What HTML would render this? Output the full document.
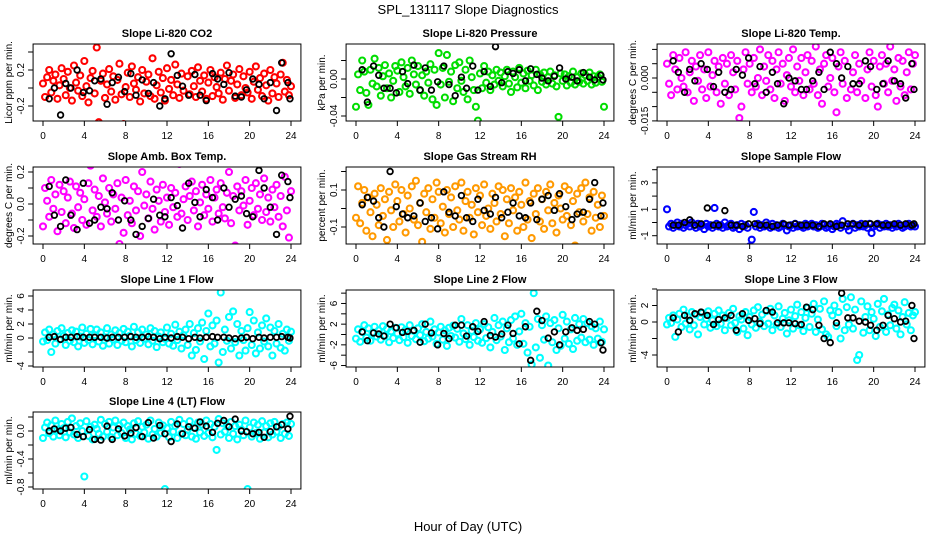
<!DOCTYPE html>
<html><head><meta charset="utf-8"><style>
html,body{margin:0;padding:0;background:#fff;}
svg{display:block;font-family:"Liberation Sans",sans-serif;}
</style></head><body>
<svg id="c" width="936" height="540" viewBox="0 0 936 540">
<text x="468" y="14" text-anchor="middle" font-size="13">SPL_131117  Slope Diagnostics</text>
<text x="468" y="531" text-anchor="middle" font-size="13">Hour of Day (UTC)</text>
</svg>
<script>
// shared sample times (hours)
const blackTimes=[0.6,1.1,1.7,2.2,2.7,3.3,3.9,4.5,5.0,5.6,6.2,6.7,7.3,7.9,8.5,9.0,9.6,10.2,10.7,11.3,11.8,12.4,13.0,13.5,14.1,14.7,15.2,15.8,16.4,16.9,17.5,18.0,18.6,19.2,19.7,20.3,20.9,21.4,22.0,22.6,23.1,23.7,23.9];
const xTicks=[0,4,8,12,16,20,24];
// panel values (scaled integer units noted per panel)
const co2Vals=[5,-10,12,20,-5,8,15,-12,3,22,10,-8,18,0,-14,25,6,-3,14,-9,30,2,-16,11,19,-6,45,-38,8,16,-11,4,21,-4,13,-13,9,27,-7,-40,1,17,-10,24,5,-2,12,-15,20,-6,7,15,-9,33,-12,3,18,-5,11,-14,22,-1,9,-8,26,4,-11,16,-3,-42,13,-7,19,2,-10,23,8,-4,14,-12,6,20,-9,12,1,-6,17,-13,10,25,-3,8,15,-11,4,21,-8,13,0,-5,18,-12,7,24,-2,11,-9,16,3,-14,20,-6,12,5,-10,15,28,-4,9,-8,2];
const co2Black=[-12,0,-30,5,0,20,-5,-3,8,10,-18,6,12,-4,16,-8,9,-6,6,-20,-12,38,14,2,-8,15,-8,-14,16,10,4,17,-9,-10,-2,10,4,-12,6,-25,28,6,-12];
const presVals=[-30,5,-12,20,8,-15,-28,10,-5,22,-8,12,-18,3,15,-10,6,-20,-2,14,9,-14,18,2,-8,12,-16,20,5,-6,14,-12,4,-18,8,-4,16,-22,10,-28,28,-6,12,-20,26,-3,8,-24,15,-10,18,-2,-14,10,-22,20,2,-12,-30,-45,6,-10,14,-4,8,-12,4,-6,10,-2,7,-8,3,10,-5,-14,8,2,-9,12,-4,6,-10,9,-2,4,-7,10,-12,5,-3,7,-6,2,8,-5,4,-8,-41,6,-2,5,-7,3,-4,8,-6,2,-3,6,-5,4,-2,7,-6,3,-4,2,5,-3,-30];
const presBlack=[10,-25,14,4,-10,-10,-15,8,-5,15,-12,12,-12,-3,14,-6,-18,2,-10,14,-12,8,-8,35,-4,8,6,10,-2,11,5,1,-2,3,12,0,2,-2,7,2,-1,4,-1];
const tempVals=[5,-2,-6,8,3,-4,7,0,-3,9,-5,2,6,-8,4,-1,8,-4,3,-7,9,-3,1,6,-5,4,-9,7,-2,5,-6,8,2,-4,6,-14,-10,3,9,-2,5,-5,7,-3,0,10,-6,4,-1,8,-4,6,-7,3,9,-2,5,-8,1,7,-3,10,-5,4,-1,7,-6,2,8,-4,6,-2,11,-6,3,-9,5,8,-3,0,7,-5,-12,4,9,-2,6,-7,14,-4,2,8,-5,5,-1,15,-7,3,9,-3,6,-6,-10,4,8,-2,5,-5,11,-1,3,-8,7,-3,6,-6,2,9,-4,5,8];
const tempBlack=[6,2,-5,3,-1,5,3,-3,2,-5,-4,3,1,7,-2,4,-5,2,-2,-9,0,-1,-4,-4,-1,2,-4,9,5,0,4,-2,-2,6,4,-4,-2,6,-1,-2,-7,5,-4];
const ambVals=[-14,10,2,-8,15,-3,6,-17,12,-5,8,-12,4,14,-6,-15,11,-2,7,-10,3,-13,13,24,-4,9,-8,5,-14,16,1,-6,10,-11,6,-3,13,-25,4,-18,15,-7,2,-12,11,-4,8,-20,20,-1,6,-9,14,-3,-16,9,2,-11,12,-5,4,-13,10,-2,7,-8,25,-6,3,11,-10,5,14,-4,8,-14,1,12,-7,6,-3,15,-11,4,9,-6,13,-2,-9,7,20,-12,5,-26,11,-4,8,-1,15,-13,2,10,-7,13,-3,6,-10,16,-5,4,-11,9,-2,12,-8,5,-14,17,-4,-21,8];
const ambBlack=[11,-7,-14,15,-7,-16,13,-12,-10,-2,-3,7,-10,2,-10,-19,-14,-9,3,-7,-8,4,-1,-15,13,1,-8,9,4,-10,10,-2,3,5,-6,-8,21,10,-2,-19,18,14,4];
const rhVals=[-5,12,-8,3,10,-12,6,-2,-15,8,2,-9,11,-4,5,-17,9,-1,-10,13,4,-7,10,-3,-13,7,0,12,-6,15,-9,3,-18,8,-2,11,-11,5,-5,14,9,-8,1,-13,10,-3,6,-10,12,-1,-6,14,-12,4,9,-5,2,-14,11,-2,7,-9,13,-4,0,-11,8,3,-7,12,-3,10,-15,5,-8,11,-1,6,-12,9,2,-10,14,-6,4,-16,8,-3,11,-7,5,-11,9,-1,13,-8,3,-13,7,0,-6,12,-4,10,-9,4,-20,8,-2,11,-7,14,-3,6,-12,9,-5,2,-10,7,-4];
const rhBlack=[2,6,4,-5,-10,20,1,-3,-5,-4,3,-7,-5,-11,9,-2,-4,7,-5,-7,5,-1,-3,6,-5,-2,3,-4,-5,3,-6,5,7,-1,8,1,-6,-3,-2,5,14,-4,3];
const sampVals=[10,-3,-1,-4,-2,0,-3,-1,-4,-2,-1,-3,0,-2,-4,-1,-3,-2,-5,-1,-3,-2,-4,11,-1,-3,-2,-4,0,-3,-2,-1,-4,-3,-2,-5,-1,-3,-2,-4,-18,-13,8,-3,-1,-4,-2,-3,0,-2,-4,-1,-3,-2,-4,-3,-1,-2,-6,-3,-2,-4,-1,-3,-2,-3,-4,-1,-3,-2,-1,-3,-2,-4,-3,-1,-2,-4,-3,-2,-5,-3,-1,-2,-4,1,45,-3,-6,-2,-1,-4,-2,-3,-1,-3,-2,-4,-1,-8,-3,-2,-1,-4,-2,-3,-1,-3,-2,-4,-2,-3,-1,-2,-4,-3,-2,-1,-3,-2,-3];
const sampBlack=[-2,-2,0,2,-2,-1,11,-2,-2,9,-2,-2,-3,-1,-1,-2,-2,-3,-2,-1,-2,-1,-2,-2,-2,-3,-1,-1,-3,-2,-1,-1,-2,-1,-1,-1,-2,-2,-1,-2,-1,-2,-1];
const l1Vals=[-5,8,-3,12,-20,5,-8,10,-2,14,3,-10,7,-4,11,-6,9,-12,2,15,-7,6,-3,13,-9,4,12,-5,8,-11,1,14,-8,5,-2,11,-10,7,-4,13,-6,9,3,-12,16,-3,8,-7,12,-1,5,-9,14,-4,10,-13,2,8,-6,-1,15,-8,6,-11,19,-3,9,-15,4,12,-10,20,-25,7,-17,14,-5,22,-30,10,35,-12,18,-8,25,-35,65,-20,12,-4,30,-15,38,-6,20,-25,10,-3,-18,14,37,-10,25,-22,8,-15,18,-5,28,-12,15,-25,10,-8,20,-14,6,-18,12,-4,9];
const l1Black=[1,2,-2,1,1,2,1,1,1,1,0,1,1,1,2,1,1,2,1,-1,1,0,2,1,-1,1,0,1,2,1,1,0,-1,0,1,-1,1,0,1,1,2,1,0];
const l2Vals=[-8,10,-14,5,18,-6,12,-12,3,15,-4,8,-10,16,-2,11,-15,6,-7,13,2,-11,14,-5,9,-16,18,-3,7,-9,12,-1,20,-13,5,-8,25,-4,10,-18,4,15,-10,8,-22,13,-3,17,-6,11,-14,30,2,-9,18,-20,7,-5,22,-12,10,-16,20,-7,14,-25,5,32,-11,18,-4,25,-30,12,-15,28,-8,35,-20,6,40,-18,22,-35,15,-58,80,-25,30,-45,18,-10,35,-60,22,-15,28,-30,12,-22,38,-8,25,-18,10,-28,32,-12,20,-6,30,-15,22,-10,16,-20,12,-8,25,-14,10];
const l2Black=[5,-12,3,1,-3,20,13,4,6,8,-15,20,3,-20,2,-8,18,18,-3,15,6,25,-2,-5,1,18,2,-18,15,-50,45,27,-7,5,-20,5,13,8,10,25,20,-16,-30];
const l3Vals=[-3,5,-1,8,-18,3,10,-6,15,-2,7,-9,12,-4,9,-15,6,11,-3,4,13,-7,2,10,-5,14,-2,8,-10,5,11,-4,16,-1,-12,7,3,-8,12,-16,6,-3,14,-7,18,0,9,-5,13,-2,16,-10,8,-3,19,-6,4,11,-14,2,15,-8,7,21,-4,12,-11,5,17,-6,10,22,-12,3,16,-9,25,-15,-18,14,8,20,-5,12,-20,28,-10,18,-3,30,-8,15,-46,-40,25,-13,6,19,-10,12,4,-17,22,-6,13,28,-12,9,-4,17,21,-8,14,-15,6,24,-3,11,-10,8,12];
const l3Black=[5,-12,8,2,10,12,8,-3,3,5,8,-10,10,2,4,-2,14,12,-1,-1,-1,-2,-3,18,15,-4,-20,-25,-1,35,5,5,1,0,-4,-10,-4,8,4,0,1,20,-20];
const l4Vals=[-10,5,12,-3,8,-8,15,2,-6,10,4,-9,13,-2,18,-5,7,-10,11,0,-65,14,-7,6,-12,9,3,-4,16,-8,10,-1,13,-9,5,15,-6,8,-3,12,-10,7,2,-12,11,-4,14,-7,6,-2,9,-11,15,-5,3,-8,12,-3,8,-83,4,-9,13,-1,7,-10,16,-4,10,-6,2,14,-8,5,-11,12,-2,9,-7,15,-3,10,-9,6,-27,17,-5,11,-1,8,-10,13,-4,7,-12,9,2,-6,15,-83,5,-8,12,-3,9,-11,14,-2,7,-9,11,-5,13,-1,6,-10,10,-4,12,-7,10];
const l4Black=[0,3,0,4,5,-5,-8,2,-12,-13,7,-12,3,-7,-3,5,-8,12,-10,8,-4,-15,10,-4,6,4,13,7,-2,11,15,6,17,0,-1,-4,-2,-9,-1,6,9,3,21];

const NS='http://www.w3.org/2000/svg';
const svg=document.getElementById('c');
function mk(tag,attrs,parent){const e=document.createElementNS(NS,tag);for(const k in attrs)e.setAttribute(k,attrs[k]);(parent||svg).appendChild(e);return e;}
const colX=[43,356,667];
const rowTop=[44,167,290,412];
const H=77;
const panels=[
 {name:'co2',title:'Slope Li-820 CO2',yl:'Licor ppm per min.',c:0,r:0,z:88,k:0.9,col:'#ff0000',v:co2Vals,b:co2Black,ticks:[-20,0,20,40],labs:{'-20':'-0.2','20':'0.2'}},
 {name:'pressure',title:'Slope Li-820 Pressure',yl:'kPa per min.',c:1,r:0,z:79,k:0.925,col:'#00dd00',v:presVals,b:presBlack,ticks:[-40,-20,0,20],labs:{'-40':'-0.04','0':'0.00'}},
 {name:'temp',title:'Slope Li-820 Temp.',yl:'degrees C per min.',c:2,r:0,z:78,k:2.86,col:'#ff00ff',v:tempVals,b:tempBlack,ticks:[-15,-10,-5,0,5,10],labs:{'-15':'-0.015','0':'0.000'}},
 {name:'amb-box-temp',title:'Slope Amb. Box Temp.',yl:'degrees C per min.',c:0,r:1,z:204,k:1.6,col:'#ff00ff',v:ambVals,b:ambBlack,ticks:[-20,-10,0,10,20],labs:{'-20':'-0.2','0':'0.0','20':'0.2'}},
 {name:'gas-rh',title:'Slope Gas Stream RH',yl:'percent per min.',c:1,r:1,z:208.5,k:1.85,col:'#ff9900',v:rhVals,b:rhBlack,ticks:[-10,0,10,20],labs:{'-10':'-0.1','10':'0.1'}},
 {name:'sample-flow',title:'Slope Sample Flow',yl:'ml/min per min.',c:2,r:1,z:222.5,k:1.32,col:'#0000ff',v:sampVals,b:sampBlack,ticks:[-10,0,10,20,30,40],labs:{'-10':'-1','10':'1','30':'3'}},
 {name:'line1',title:'Slope Line 1 Flow',yl:'ml/min per min.',c:0,r:2,z:338,k:0.7,col:'#00ffff',v:l1Vals,b:l1Black,ticks:[-40,-20,0,20,40,60],labs:{'-40':'-4','0':'0','20':'2','40':'4','60':'6'}},
 {name:'line2',title:'Slope Line 2 Flow',yl:'ml/min per min.',c:1,r:2,z:334.5,k:0.517,col:'#00ffff',v:l2Vals,b:l2Black,ticks:[-60,-40,-20,0,20,40,60,80],labs:{'-60':'-6','-20':'-2','20':'2','60':'6'}},
 {name:'line3',title:'Slope Line 3 Flow',yl:'ml/min per min.',c:2,r:2,z:322,k:0.825,col:'#00ffff',v:l3Vals,b:l3Black,ticks:[-40,-20,0,20,40],labs:{'-40':'-4','0':'0','20':'2'}},
 {name:'line4',title:'Slope Line 4 (LT) Flow',yl:'ml/min per min.',c:0,r:3,z:431,k:0.7,col:'#00ffff',v:l4Vals,b:l4Black,ticks:[-80,-60,-40,-20,0,20],labs:{'-80':'-0.8','-40':'-0.4','0':'0.0'}}
];
panels.forEach((p,pi)=>{
  const x0=colX[p.c], top=rowTop[p.r], bot=top+H;
  const xs=t=>x0+t*248/24;
  const ys=v=>p.z-v*p.k;
  const left=xs(-0.96), right=xs(24.96);
  const g=mk('g',{});
  
  
  const cp=mk('clipPath',{id:'cp'+pi},g);
  mk('rect',{x:left,y:top,width:right-left,height:H},cp);
  const pts=mk('g',{'clip-path':'url(#cp'+pi+')',fill:'none'},g);
  
  
  const n=p.v.length;
  p.v.forEach((v,i)=>{
    const c=mk('circle',{cx:xs(i*24/(n-1)),cy:ys(v),r:3,stroke:p.col,'stroke-width':2.1},pts);
    
    
  });
  p.b.forEach((v,i)=>{
    const c=mk('circle',{cx:xs(blackTimes[i]),cy:ys(v),r:2.8,stroke:'#000','stroke-width':1.8},pts);
    
    
  });
  const box=mk('rect',{x:left,y:top,width:right-left,height:H,fill:'none',stroke:'#000','stroke-width':1},g);
  
  
  const ttl=mk('text',{x:(left+right)/2,y:top-7,'text-anchor':'middle','font-size':11,'font-weight':'bold'},g);
  ttl.textContent=p.title;
  
  
  xTicks.forEach(t=>{
    mk('line',{x1:xs(t),x2:xs(t),y1:bot,y2:bot+5,stroke:'#000'},g);
    const tx=mk('text',{x:xs(t),y:bot+18,'text-anchor':'middle','font-size':10},g);
    tx.textContent=t;
    
    
  });
  p.ticks.forEach(t=>{
    const y=ys(t);
    if(y<top-1||y>bot+1)return;
    mk('line',{x1:left,x2:left-5,y1:y,y2:y,stroke:'#000'},g);
    const lab=p.labs[String(t)];
    if(lab!==undefined){
      const tx=mk('text',{x:left-9,y:y,'text-anchor':'middle','font-size':10,transform:'rotate(-90 '+(left-9)+' '+y+')'},g);
      tx.textContent=lab;
      
      
    }
  });
  const yt=mk('text',{x:left-21,y:(top+bot)/2,'text-anchor':'middle','font-size':10,transform:'rotate(-90 '+(left-21)+' '+((top+bot)/2)+')'},g);
  yt.textContent=p.yl;
  
  
});
</script>
</body></html>
